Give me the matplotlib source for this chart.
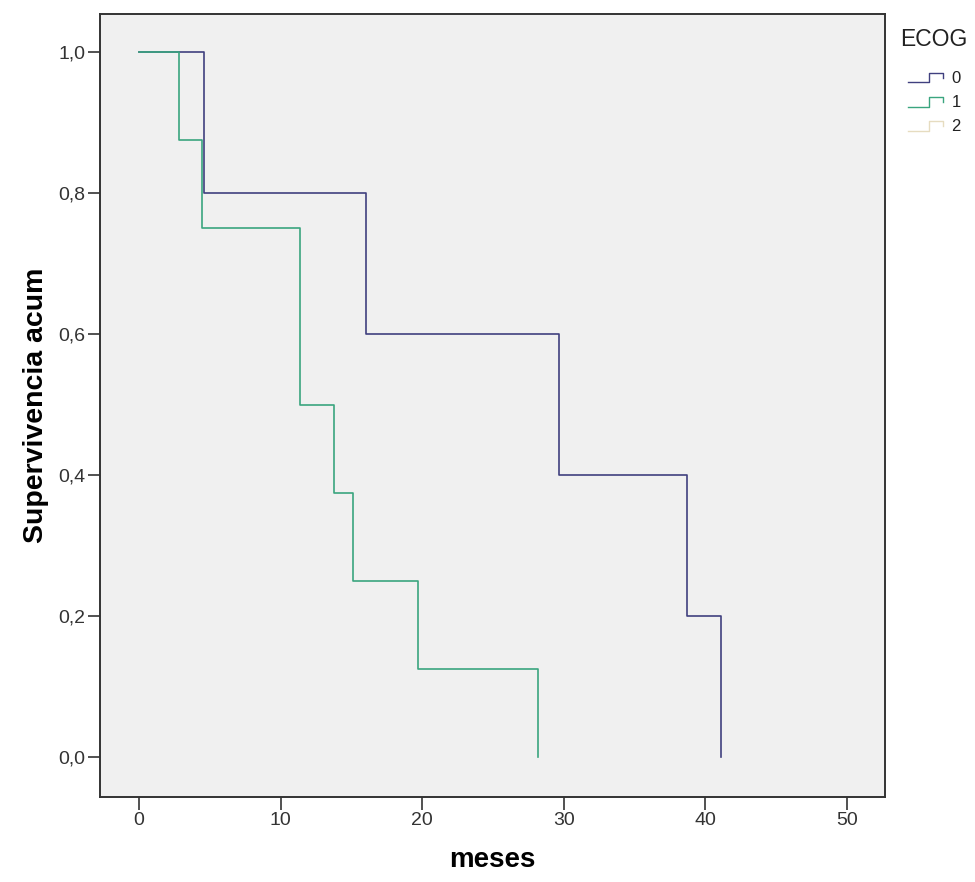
import numpy as np
import matplotlib.pyplot as plt
from matplotlib.legend_handler import HandlerBase
from matplotlib.lines import Line2D
from matplotlib.ticker import FuncFormatter

plt.rcParams['font.family'] = ['Liberation Sans', 'DejaVu Sans']

# Kaplan-Meier steps (months, cumulative survival)
ecog0_t = [0, 4.6, 16.0, 29.7, 38.7, 41.1]
ecog0_s = [1.0, 0.8, 0.6, 0.4, 0.2, 0.0]

ecog1_t = [0, 2.8, 4.45, 11.4, 13.8, 15.1, 19.7, 28.2]
ecog1_s = [1.0, 0.875, 0.75, 0.5, 0.375, 0.25, 0.125, 0.0]

# ECOG 2 only shows up in the legend
ecog2_t = []
ecog2_s = []

groups = ['0', '1', '2']
colors = ['#40407f', '#3aa57f', '#e6dcc0']

xticks = [0, 10, 20, 30, 40, 50]
yticks = [0.0, 0.2, 0.4, 0.6, 0.8, 1.0]


class StepHandler(HandlerBase):
    # SPSS-like little step icon
    def create_artists(self, legend, orig_handle, xdescent, ydescent,
                       width, height, fontsize, trans):
        xs = np.array([0.0, 0.6, 0.6, 1.0, 1.0]) * width - xdescent
        ys = np.array([0.05, 0.05, 0.9, 0.9, 0.45]) * height - ydescent
        ln = Line2D(xs, ys, color=orig_handle.get_color(), lw=1.0)
        ln.set_transform(trans)
        return [ln]


fig = plt.figure(figsize=(9.75, 8.82), dpi=100)
ax = fig.add_axes([0.1026, 0.0964, 0.8051, 0.8878])
ax.set_facecolor('#f0f0f0')

handles = []
for t, s, c in [(ecog0_t, ecog0_s, colors[0]),
                (ecog1_t, ecog1_s, colors[1]),
                (ecog2_t, ecog2_s, colors[2])]:
    h, = ax.step(t, s, where='post', color=c, lw=1.2)
    handles.append(h)

ax.set_xlim(-2.76, 52.7)
ax.set_ylim(-0.0563, 1.054)
ax.set_xticks(xticks)
ax.set_yticks(yticks)
ax.yaxis.set_major_formatter(FuncFormatter(lambda v, p: f'{v:.1f}'.replace('.', ',')))
ax.tick_params(direction='out', length=9, width=1.2, pad=1.5,
               labelsize=14, colors='#333333')
for sp in ax.spines.values():
    sp.set_color('#333333')
    sp.set_linewidth(1.4)

ax.set_xlabel('meses', fontsize=20, fontweight='bold', labelpad=13)
ax.set_ylabel('Supervivencia acum', fontsize=20.5, fontweight='bold', labelpad=7)

fig.text(900 / 975, 1 - 40 / 882, 'ECOG', fontsize=16.5, va='center', ha='left',
         color='#222222')
leg = fig.legend(handles, groups, loc='upper left',
                 bbox_to_anchor=(908 / 975, 1 - 71 / 882), frameon=False,
                 borderpad=0, borderaxespad=0,
                 fontsize=12, handlelength=2.1, handleheight=0.7,
                 handletextpad=0.5, labelspacing=0.55,
                 handler_map={Line2D: StepHandler()})
for txt in leg.get_texts():
    txt.set_color('#222222')

fig.savefig('out.png', dpi=100)
